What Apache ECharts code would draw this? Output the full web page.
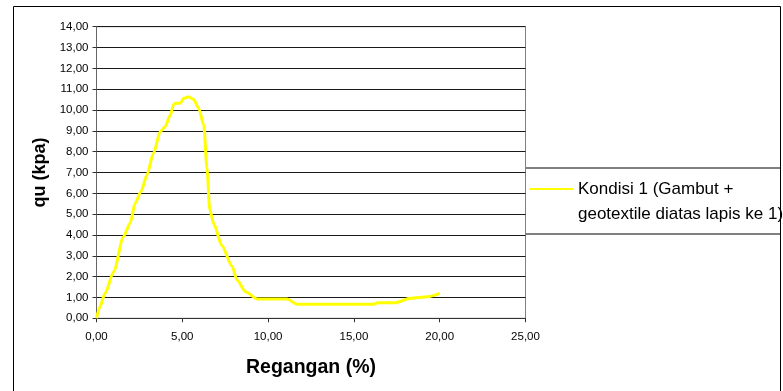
<!DOCTYPE html>
<html>
<head>
<meta charset="utf-8">
<script src="https://cdn.jsdelivr.net/npm/echarts@6/dist/echarts.min.js"></script>
<style>
  html, body { margin: 0; padding: 0; background: #fff; }
  #chart { width: 783px; height: 391px; }
</style>
</head>
<body>
<div id="chart"></div>
<script>
// Strain (%) vs unconfined compressive strength qu (kPa)
const strain = [0, 0.2, 0.5, 1.0, 1.57, 1.96, 2.25, 2.6, 2.94, 3.32, 3.71, 4.0, 4.3, 4.5, 4.6, 4.88, 5.08, 5.37, 5.66, 5.95, 6.25, 6.44, 6.6, 6.85, 7.3, 7.9, 8.19, 8.68, 9.37, 11.1, 11.7, 16.1, 16.4, 17.4, 18.3, 19.3, 20.0];
const qu     = [0, 0.56, 1.2, 2.24, 3.92, 4.56, 5.52, 6.1, 6.88, 7.92, 8.96, 9.2, 9.76, 10.28, 10.32, 10.32, 10.56, 10.64, 10.5, 10.1, 9.28, 7.2, 5.2, 4.5, 3.5, 2.5, 1.84, 1.28, 0.93, 0.93, 0.67, 0.67, 0.75, 0.75, 0.96, 1.04, 1.2];

const seriesName = 'Kondisi 1 (Gambut +\ngeotextile diatas lapis ke 1)';
const xRange = { min: 0, max: 25, step: 5 };
const yRange = { min: 0, max: 14, step: 1 };

const commaFmt = v => v.toFixed(2).replace('.', ',');
const FONT = '"Liberation Sans", Arial, sans-serif';

const chart = echarts.init(document.getElementById('chart'));
chart.setOption({
  animation: false,
  backgroundColor: '#ffffff',
  textStyle: { fontFamily: FONT },
  grid: {
    left: 96.5, top: 26.7, width: 429, height: 291.6,
    show: true, borderColor: '#808080', borderWidth: 1, backgroundColor: 'transparent'
  },
  xAxis: {
    type: 'value',
    min: xRange.min, max: xRange.max, interval: xRange.step,
    name: 'Regangan (%)',
    nameLocation: 'middle',
    nameGap: 39,
    nameTextStyle: { fontFamily: FONT, fontSize: 19.5, fontWeight: 'bold', color: '#000' },
    axisLine: { show: true, lineStyle: { color: '#333', width: 1 } },
    axisTick: { show: true, length: 4, lineStyle: { color: '#333' } },
    axisLabel: { formatter: commaFmt, fontFamily: FONT, fontSize: 11.5, color: '#000', margin: 13 },
    splitLine: { show: false }
  },
  yAxis: {
    type: 'value',
    min: yRange.min, max: yRange.max, interval: yRange.step,
    name: 'qu (kpa)',
    nameLocation: 'middle',
    nameGap: 46,
    nameTextStyle: { fontFamily: FONT, fontSize: 18, fontWeight: 'bold', color: '#000' },
    axisLine: { show: true, lineStyle: { color: '#666', width: 1 } },
    axisTick: { show: true, length: 4, lineStyle: { color: '#333' } },
    axisLabel: { formatter: commaFmt, fontFamily: FONT, fontSize: 11.5, color: '#000', margin: 8 },
    splitLine: { show: true, lineStyle: { color: '#1a1a1a', width: 1 } }
  },
  legend: {
    left: 529, top: 151.5, padding: 0,
    selectedMode: false,
    itemWidth: 44, itemHeight: 14,
    itemGap: 0,
    icon: 'path://M0,6 L44,6 L44,8 L0,8 Z',
    // leading blank line keeps the first text line level with the line sample
    formatter: name => '\n' + name,
    textStyle: { fontFamily: FONT, fontSize: 17, color: '#000', lineHeight: 25 },
    data: [{ name: seriesName, itemStyle: { color: '#ffff00' } }]
  },
  graphic: [
    { type: 'rect', silent: true, z: 100,
      shape: { x: 13.5, y: 6.5, width: 767, height: 420 },
      style: { fill: 'none', stroke: '#000', lineWidth: 1 } },
    { type: 'line', silent: true, z: 100,
      shape: { x1: 526, y1: 168, x2: 780.5, y2: 168 },
      style: { stroke: '#000', lineWidth: 1 } },
    { type: 'line', silent: true, z: 100,
      shape: { x1: 526, y1: 234, x2: 780.5, y2: 234 },
      style: { stroke: '#000', lineWidth: 1 } }
  ],
  series: [{
    name: seriesName,
    type: 'line',
    data: strain.map((s, i) => [s, qu[i]]),
    showSymbol: false,
    symbol: 'none',
    smooth: 0.25,
    smoothMonotone: 'x',
    lineStyle: { color: '#ffff00', width: 3 },
    itemStyle: { color: '#ffff00' }
  }]
});
</script>
</body>
</html>
